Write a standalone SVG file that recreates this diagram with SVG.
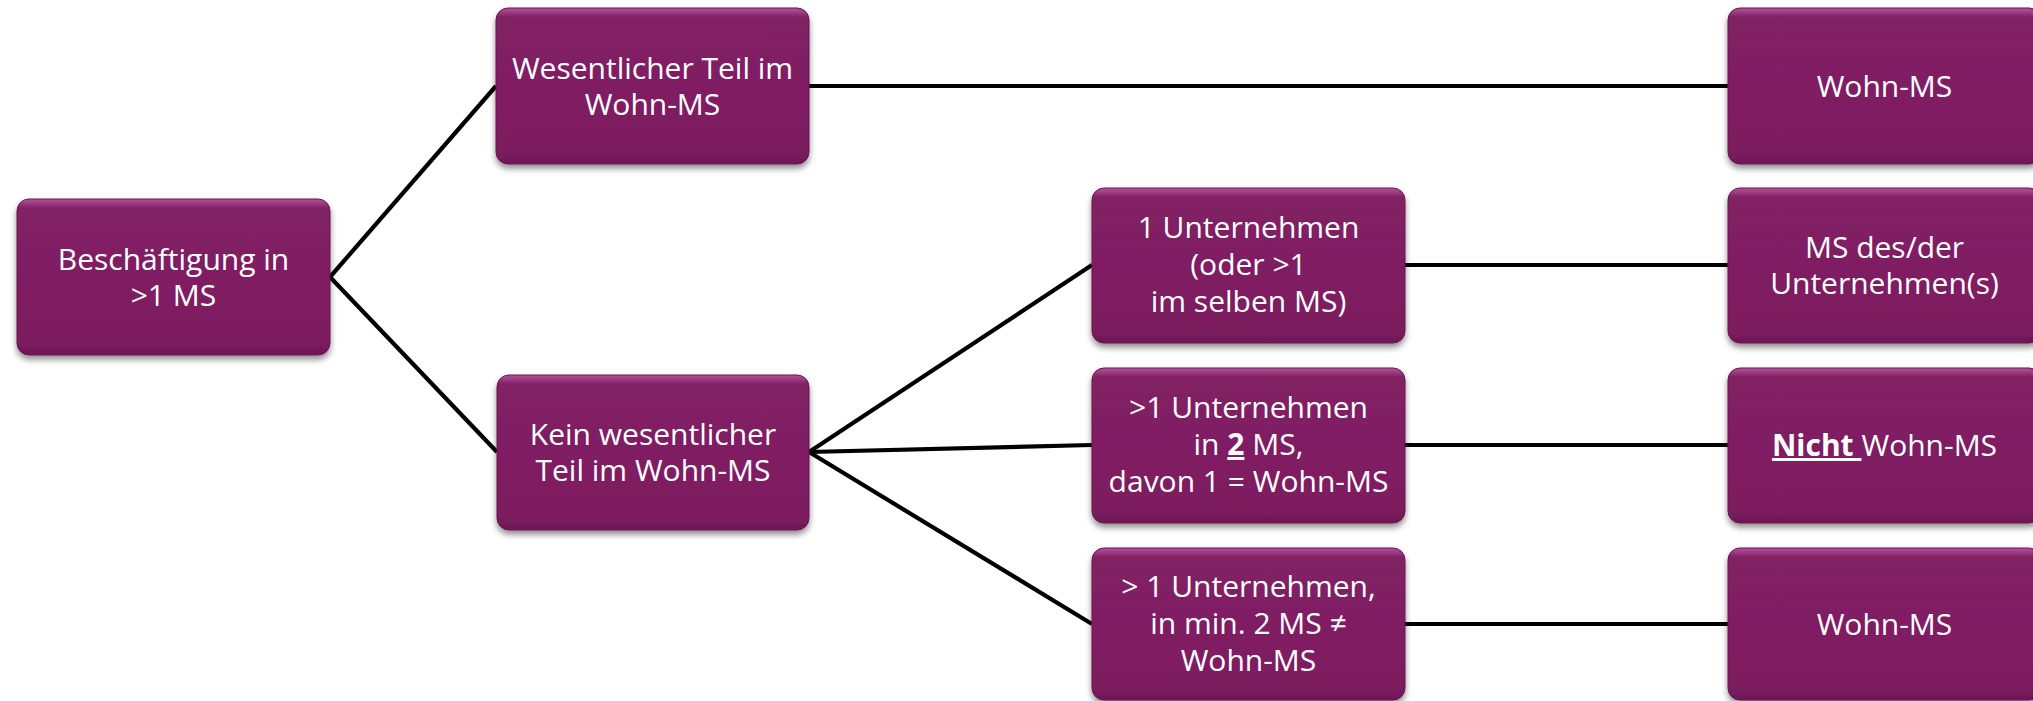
<svg xmlns="http://www.w3.org/2000/svg" width="2033" height="701" viewBox="0 0 2033 701">
<defs>
<linearGradient id="fill" x1="0" y1="0" x2="0" y2="1">
<stop offset="0" stop-color="#b4529a"/>
<stop offset="0.06" stop-color="#812064"/>
<stop offset="0.9" stop-color="#7e1e61"/>
<stop offset="1" stop-color="#6e1755"/>
</linearGradient>
<filter id="shadow" x="-10%" y="-10%" width="120%" height="130%">
<feGaussianBlur in="SourceAlpha" stdDeviation="3"/>
<feOffset dx="0" dy="4" result="b"/>
<feComponentTransfer><feFuncA type="linear" slope="0.45"/></feComponentTransfer>
<feMerge><feMergeNode/><feMergeNode in="SourceGraphic"/></feMerge>
</filter>
</defs>
<style>
.box{fill:url(#fill);stroke:#6a1552;stroke-width:1;filter:url(#shadow)}
.t{font-family:"Open Sans","Noto Sans","Liberation Sans",sans-serif;font-size:30px;fill:#ffffff;text-anchor:middle}
.b{font-weight:bold;text-decoration:underline}
.c{stroke:#000;stroke-width:4.2;fill:none}
</style>
<g id="connectors">
<line class="c" x1="330" y1="277" x2="496" y2="86"/>
<line class="c" x1="330" y1="277" x2="497" y2="452"/>
<line class="c" x1="809" y1="86" x2="1728" y2="86"/>
<line class="c" x1="809" y1="452" x2="1092" y2="265"/>
<line class="c" x1="809" y1="452" x2="1092" y2="445"/>
<line class="c" x1="809" y1="452" x2="1092" y2="624"/>
<line class="c" x1="1405" y1="265" x2="1728" y2="265"/>
<line class="c" x1="1405" y1="445" x2="1728" y2="445"/>
<line class="c" x1="1405" y1="624" x2="1728" y2="624"/>
</g>
<g id="n-root">
<rect class="box" x="17" y="199" width="313" height="156" rx="12"/>
<text class="t" x="173.5" y="270">Beschäftigung in</text>
<text class="t" x="173.5" y="306">&gt;1 MS</text>
</g>
<g id="n-wesentlich">
<rect class="box" x="496" y="8" width="313" height="156" rx="12"/>
<text class="t" x="652.5" y="79">Wesentlicher Teil im</text>
<text class="t" x="652.5" y="115">Wohn-MS</text>
</g>
<g id="n-kein">
<rect class="box" x="497" y="375" width="312" height="155" rx="12"/>
<text class="t" x="653" y="445">Kein wesentlicher</text>
<text class="t" x="653" y="481">Teil im Wohn-MS</text>
</g>
<g id="n-1u">
<rect class="box" x="1092" y="188" width="313" height="155" rx="12"/>
<text class="t" x="1248.5" y="238">1 Unternehmen</text>
<text class="t" x="1248.5" y="275">(oder &gt;1</text>
<text class="t" x="1248.5" y="312">im selben MS)</text>
</g>
<g id="n-2ms">
<rect class="box" x="1092" y="368" width="313" height="155" rx="12"/>
<text class="t" x="1248.5" y="418">&gt;1 Unternehmen</text>
<text class="t" x="1248.5" y="455">in <tspan class="b">2</tspan> MS,</text>
<text class="t" x="1248.5" y="492">davon 1 = Wohn-MS</text>
</g>
<g id="n-min2">
<rect class="box" x="1092" y="548" width="313" height="152" rx="12"/>
<text class="t" x="1248.5" y="597">&gt; 1 Unternehmen,</text>
<text class="t" x="1248.5" y="634">in min. 2 MS ≠</text>
<text class="t" x="1248.5" y="671">Wohn-MS</text>
</g>
<g id="r-wohn1">
<rect class="box" x="1728" y="8" width="313" height="156" rx="12"/>
<text class="t" x="1884.5" y="97">Wohn-MS</text>
</g>
<g id="r-unt">
<rect class="box" x="1728" y="188" width="313" height="155" rx="12"/>
<text class="t" x="1884.5" y="258">MS des/der</text>
<text class="t" x="1884.5" y="294">Unternehmen(s)</text>
</g>
<g id="r-nicht">
<rect class="box" x="1728" y="368" width="313" height="155" rx="12"/>
<text class="t" x="1884.5" y="456"><tspan class="b">Nicht </tspan>Wohn-MS</text>
</g>
<g id="r-wohn2">
<rect class="box" x="1728" y="548" width="313" height="152" rx="12"/>
<text class="t" x="1884.5" y="635">Wohn-MS</text>
</g>
</svg>
